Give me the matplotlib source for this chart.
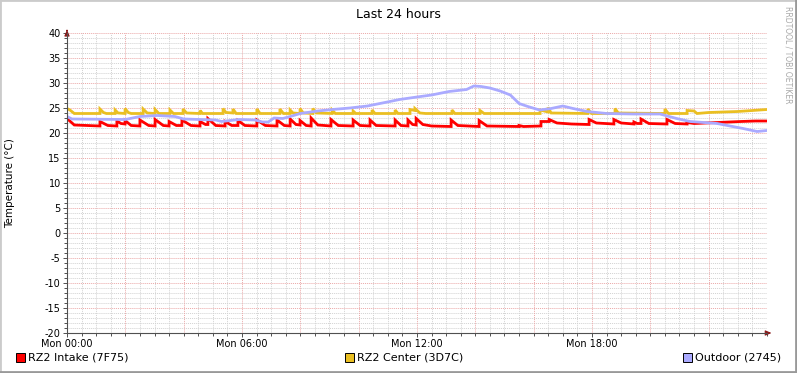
import matplotlib
matplotlib.use("Agg")
import matplotlib.pyplot as plt
from matplotlib.patches import Rectangle
from matplotlib.ticker import MultipleLocator
import numpy as np

plt.rcParams["axes.unicode_minus"] = False

# ---- data (hours since Mon 00:00, deg C) ----
intake_hours = [0.0, 0.25, 1.13, 1.13, 1.4, 1.71, 1.71, 1.85, 1.99, 1.99, 2.2, 2.5, 2.5, 2.8,
                3.02, 3.02, 3.3, 3.5, 3.5, 3.75, 3.94, 3.94, 4.25, 4.56, 4.56, 4.75, 4.83, 4.83,
                5.1, 5.42, 5.42, 5.65, 5.86, 5.86, 6.1, 6.51, 6.51, 6.8, 7.2, 7.2, 7.45, 7.65,
                7.65, 7.85, 7.99, 7.99, 8.2, 8.37, 8.37, 8.6, 9.05, 9.05, 9.3, 9.81, 9.81, 10.05,
                10.39, 10.39, 10.6, 11.25, 11.25, 11.45, 11.69, 11.69, 11.85, 11.97, 11.97, 12.2,
                12.5, 13.17, 13.17, 13.4, 14.13, 14.13, 14.4, 15.5, 15.5, 15.65, 16.25, 16.25,
                16.53, 16.53, 16.8, 17.3, 17.9, 17.9, 18.15, 18.75, 18.75, 19.0, 19.44, 19.44,
                19.55, 19.68, 19.68, 19.95, 20.57, 20.57, 20.85, 21.26, 21.26, 21.5, 22.3, 23.1,
                23.6, 24.0]
intake_temps = [22.9, 21.6, 21.4, 22.3, 21.5, 21.4, 22.4, 21.9, 21.8, 22.5, 21.5, 21.4, 22.6, 21.5,
                21.4, 22.7, 21.5, 21.4, 22.3, 21.5, 21.5, 22.6, 21.5, 21.4, 22.3, 21.7, 21.7, 22.9,
                21.5, 21.4, 22.3, 21.5, 21.5, 22.5, 21.5, 21.4, 22.6, 21.5, 21.4, 22.6, 21.5, 21.4,
                22.8, 21.7, 21.6, 22.5, 21.5, 21.4, 23.0, 21.6, 21.4, 22.7, 21.5, 21.4, 22.6, 21.5,
                21.4, 22.6, 21.5, 21.4, 22.6, 21.5, 21.4, 22.6, 21.7, 21.6, 22.9, 21.7,
                21.4, 21.3, 22.6, 21.5, 21.3, 22.5, 21.4, 21.3, 21.5, 21.3, 21.4, 22.3,
                22.3, 22.7, 22.0, 21.8, 21.7, 22.7, 22.0, 21.8, 22.7, 22.0, 21.8, 22.2,
                21.9, 21.9, 22.8, 21.9, 21.8, 22.7, 21.9, 21.8, 22.1, 21.9, 22.1, 22.3,
                22.4, 22.4]

center_hours = [0.0, 0.1, 0.25, 1.13, 1.13, 1.25, 1.35, 1.65, 1.65, 1.75, 1.99, 1.99, 2.1, 2.2,
                2.61, 2.61, 2.75, 3.02, 3.02, 3.15, 3.53, 3.53, 3.65, 3.98, 3.98, 4.1, 4.56, 4.56,
                4.65, 5.35, 5.35, 5.45, 5.69, 5.69, 5.8, 6.51, 6.51, 6.62, 7.3, 7.3, 7.42, 7.65,
                7.65, 7.75, 7.99, 7.99, 8.1, 8.43, 8.43, 8.55, 9.09, 9.09, 9.2, 9.81, 9.81, 9.9,
                10.46, 10.46, 10.56, 11.25, 11.25, 11.35, 11.76, 11.76, 11.93, 11.93, 12.1, 12.3,
                13.2, 13.2, 13.3, 14.16, 14.16, 14.3, 16.22, 16.22, 16.49, 16.49, 16.6, 17.86,
                17.86, 17.98, 18.79, 18.79, 18.9, 20.5, 20.5, 20.62, 21.26, 21.26, 21.5, 21.6,
                22.0, 22.5, 23.0, 23.5, 24.0]
center_temps = [24.9, 24.6, 23.9, 23.9, 24.8, 24.1, 23.9, 23.9, 24.6, 24.0, 23.9, 24.9, 24.1, 23.9,
                23.9, 24.8, 24.0, 23.9, 24.7, 23.9, 23.9, 24.6, 23.9, 23.9, 24.8, 24.0, 23.9, 24.5,
                23.9, 23.9, 24.9, 24.1, 24.0, 24.8, 23.9, 23.9, 24.8, 23.9, 23.9, 24.8, 23.9, 23.9,
                24.6, 24.0, 23.9, 24.9, 24.0, 23.9, 24.9, 24.0, 23.9, 24.6, 23.9, 23.9, 24.4, 23.9,
                23.9, 24.6, 23.9, 23.9, 24.6, 23.9, 23.9, 24.7, 24.5, 24.9, 24.0, 23.9,
                23.9, 24.6, 23.9, 23.9, 24.5, 23.9, 23.9, 24.6, 24.2, 25.1, 24.0, 23.9,
                24.8, 23.9, 23.9, 24.9, 24.0, 23.9, 24.8, 23.9, 23.9, 24.5, 24.4, 23.9,
                24.1, 24.2, 24.3, 24.5, 24.7]

outdoor_hours = [0.0, 0.17, 2.0, 2.5, 3.1, 3.7, 4.0, 5.1, 5.3, 5.9, 6.45, 6.7, 6.9, 7.1, 7.4,
                 7.65, 8.0, 8.6, 9.1, 9.7, 10.3, 10.9, 11.4, 12.0, 12.5, 13.1, 13.7, 13.95, 14.2,
                 14.5, 14.85, 15.2, 15.5, 15.8, 16.2, 16.6, 17.0, 17.35, 17.83, 18.5, 19.4, 20.33,
                 20.9, 21.36, 22.29, 22.73, 23.18, 23.66, 24.0]
outdoor_temps = [23.3, 22.8, 22.7, 23.3, 23.5, 23.3, 22.8, 22.6, 22.3, 22.7, 22.6, 22.2, 22.2,
                 23.0, 22.9, 23.3, 23.9, 24.4, 24.7, 25.0, 25.4, 26.1, 26.7, 27.2, 27.6, 28.3,
                 28.7, 29.4, 29.3, 29.0, 28.4, 27.6, 25.9, 25.3, 24.6, 24.9, 25.4, 24.9, 24.3,
                 23.9, 23.8, 23.8, 22.9, 22.3, 21.9, 21.4, 20.9, 20.3, 20.5]

series_names = ["RZ2 Intake (7F75)", "RZ2 Center (3D7C)", "Outdoor (2745)"]
series_colors = ["#FF0000", "#EABF22", "#AAAAFF"]
hour_ticks = [0, 6, 12, 18]
hour_labels = ["Mon 00:00", "Mon 06:00", "Mon 12:00", "Mon 18:00"]

W, H = 797, 373
fig = plt.figure(figsize=(W / 100, H / 100), dpi=100)
fig.patch.set_facecolor("white")

x0, x1, ytop, ybot = 67, 767, 33, 333
ax = fig.add_axes([x0 / W, (H - ybot) / H, (x1 - x0) / W, (ybot - ytop) / H])
ax.set_facecolor("white")
ax.set_xlim(0, 24)
ax.set_ylim(-20, 40)

# grid
minor_c = "#D2D2D2"
major_c = "#EBA8A8"
for v in np.arange(-20, 41, 1):
    if v % 5:
        ax.axhline(v, color=minor_c, lw=0.7, ls=(0, (1, 1)), zorder=1)
for h in np.arange(0.5, 24, 0.5):
    if h % 2:
        ax.axvline(h, color=minor_c, lw=0.7, ls=(0, (1, 1)), zorder=1)
for v in range(-15, 41, 5):
    ax.axhline(v, color=major_c, lw=0.7, ls=(0, (1, 1)), zorder=1.5)
for h in range(2, 24, 2):
    ax.axvline(h, color=major_c, lw=0.7, ls=(0, (1, 1)), zorder=1.5)

# series
all_h = [intake_hours, center_hours, outdoor_hours]
all_t = [intake_temps, center_temps, outdoor_temps]
for hrs, tmp, col in zip(all_h, all_t, series_colors):
    ax.plot(hrs, tmp, color=col, lw=2.0, solid_joinstyle="miter", zorder=3)

# axes, ticks
for s in ["top", "right"]:
    ax.spines[s].set_visible(False)
for s in ["left", "bottom"]:
    ax.spines[s].set_color("#505050")
    ax.spines[s].set_linewidth(0.8)
    ax.spines[s].set_zorder(4)

ax.yaxis.set_major_locator(MultipleLocator(5))
ax.yaxis.set_minor_locator(MultipleLocator(1))
ax.set_xticks(hour_ticks, hour_labels)
ax.xaxis.set_minor_locator(MultipleLocator(0.5))
ax.tick_params(which="both", colors="#505050", labelcolor="black", labelsize=7, width=0.7)
ax.tick_params(which="major", length=3, pad=1.5)
ax.tick_params(which="minor", length=2)

fig.text(10 / W, 1 - 183 / H, "Temperature (°C)", rotation=90, ha="center", va="center",
         fontsize=7.5)

# arrows on axis ends
ax.annotate("", xy=(24.25, -20), xytext=(23.9, -20), annotation_clip=False,
            arrowprops=dict(arrowstyle="-|>,head_length=0.35,head_width=0.15",
                            color="#8B1A1A", lw=0.8))
ax.annotate("", xy=(0, 41.2), xytext=(0, 39.9), annotation_clip=False,
            arrowprops=dict(arrowstyle="-|>,head_length=0.35,head_width=0.15",
                            color="#8B1A1A", lw=0.8))

fig.text(0.5, 1 - 14 / H, "Last 24 hours", ha="center", va="center", fontsize=9)
fig.text(788 / W, 1 - 55 / H, "RRDTOOL / TOBI OETIKER", rotation=270, ha="center",
         va="center", fontsize=5.5, color="#A8A8A8")

# legend
leg_x = [16, 345, 683]
for lx, name, col in zip(leg_x, series_names, series_colors):
    fig.patches.append(Rectangle((lx / W, 1 - 362 / H), 9 / W, 9 / H, transform=fig.transFigure,
                                 facecolor=col, edgecolor="black", lw=0.7))
    fig.text((lx + 12) / W, 1 - 358 / H, name, ha="left", va="center", fontsize=8)

# outer border
fig.patches.append(Rectangle((0, 0), 1, 1, transform=fig.transFigure, fill=False,
                             edgecolor="#CBCBCB", lw=2))
fig.add_artist(plt.Line2D([1 - 1 / W, 1 - 1 / W], [0, 1], transform=fig.transFigure,
                          color="#999999", lw=2))
fig.add_artist(plt.Line2D([0, 1], [1 / H, 1 / H], transform=fig.transFigure,
                          color="#999999", lw=2))

fig.savefig("out.png", dpi=100)
